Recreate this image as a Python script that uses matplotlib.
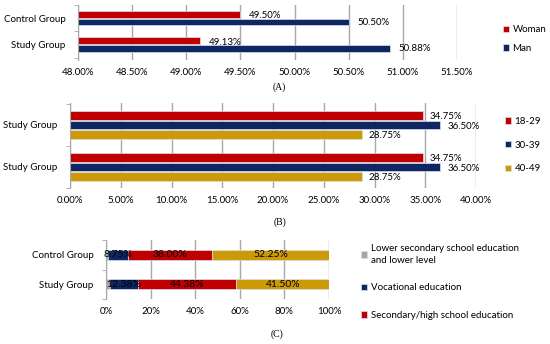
import numpy as np
import matplotlib
matplotlib.use('Agg')
import matplotlib.pyplot as plt

plt.rcParams['font.family'] = ['Lato', 'DejaVu Sans']
plt.rcParams['font.size'] = 7

# panel A - gender
groups_a = ['Control Group', 'Study Group']
woman = [49.50, 49.13]
man = [50.50, 50.88]
ticks_a = [48.0, 48.5, 49.0, 49.5, 50.0, 50.5, 51.0, 51.5]

# panel B - age
groups_b = ['Study Group', 'Study Group']
age_18_29 = [34.75, 34.75]
age_30_39 = [36.50, 36.50]
age_40_49 = [28.75, 28.75]
ticks_b = [0, 5, 10, 15, 20, 25, 30, 35, 40]

# panel C - education
groups_c = ['Control Group', 'Study Group']
edu_lower = [1.00, 1.75]
edu_vocational = [8.75, 12.38]
edu_secondary = [38.00, 44.38]
edu_higher = [52.25, 41.50]
ticks_c = [0, 20, 40, 60, 80, 100]

RED = '#C00000'
NAVY = '#0E2762'
GOLD = '#CC9A06'
GRAY = '#A6A6A6'
GRID = '#A8A8A8'
EDGE = '#DCE0EC'

W, H = 550, 344
fig = plt.figure(figsize=(W / 100, H / 100), dpi=100)


def px_axes(x0, y0, x1, y1):
    return fig.add_axes([x0 / W, 1 - y1 / H, (x1 - x0) / W, (y1 - y0) / H])


def style(ax, labels, ylim):
    ax.set_ylim(*ylim)
    ax.set_yticks(range(len(labels)))
    ax.set_yticklabels(labels)
    ax.set_yticks([-0.5, 0.5, 1.5], minor=True)
    ax.tick_params(axis='y', which='major', length=0, pad=9)
    ax.tick_params(axis='y', which='minor', length=3, color=GRID)
    ax.tick_params(axis='x', length=0, pad=6)
    for s in ['top', 'right', 'bottom']:
        ax.spines[s].set_visible(False)
    ax.spines['left'].set_color(GRID)
    ax.grid(axis='x', color=GRID, lw=1)
    ax.set_axisbelow(True)


def pct(v, dec=2):
    return f'{v:.{dec}f}%'


# ---- A ----
ax = px_axes(78, 5, 457, 60)
y = np.arange(len(groups_a))
ax.barh(y - 0.15, woman, height=0.25, color=RED, edgecolor=EDGE, lw=0.5, label='Woman')
ax.barh(y + 0.15, man, height=0.25, color=NAVY, edgecolor=EDGE, lw=0.5, label='Man')
style(ax, groups_a, (1.58, -0.49))
ax.set_xlim(ticks_a[0], ticks_a[-1])
ax.set_xticks(ticks_a)
ax.set_xticklabels([pct(t) for t in ticks_a])
for i in range(len(groups_a)):
    ax.annotate(pct(woman[i]), (woman[i], y[i] - 0.1), xytext=(6, 0),
                textcoords='offset points', va='center', fontsize=7)
    ax.annotate(pct(man[i]), (man[i], y[i] + 0.15), xytext=(6, 0),
                textcoords='offset points', va='center', fontsize=7)
ax.legend(loc='center left', bbox_to_anchor=(498 / W, 1 - 39 / H), bbox_transform=fig.transFigure,
          frameon=False, handlelength=0.6, handleheight=0.6, handletextpad=0.4,
          labelspacing=1.0, borderpad=0, fontsize=7)
fig.text(279 / W, 1 - 87 / H, '(A)', family='Liberation Serif', fontsize=7, ha='center', va='center')

# ---- B ----
ax = px_axes(70, 103, 476, 188)
y = np.arange(len(groups_b))
for off, vals, col, lab in [(-0.225, age_18_29, RED, '18-29'),
                            (0.0, age_30_39, NAVY, '30-39'),
                            (0.225, age_40_49, GOLD, '40-49')]:
    ax.barh(y + off, vals, height=0.2, color=col, edgecolor=EDGE, lw=0.5, label=lab)
    for i in range(len(groups_b)):
        ax.annotate(pct(vals[i]), (vals[i], y[i] + off + 0.03), xytext=(5, 0),
                    textcoords='offset points', va='center', fontsize=7)
style(ax, groups_b, (1.5, -0.52))
ax.set_xlim(ticks_b[0], ticks_b[-1])
ax.set_xticks(ticks_b)
ax.set_xticklabels([pct(t) for t in ticks_b])
ax.legend(loc='center left', bbox_to_anchor=(500 / W, 1 - 145 / H), bbox_transform=fig.transFigure,
          frameon=False, handlelength=0.6, handleheight=0.6, handletextpad=0.4,
          labelspacing=1.5, borderpad=0, fontsize=7)
fig.text(280 / W, 1 - 222 / H, '(B)', family='Liberation Serif', fontsize=7, ha='center', va='center')

# ---- C ----
ax = px_axes(106, 240, 329, 299)
y = np.arange(len(groups_c))
left = np.zeros(len(groups_c))
segments = [(edu_lower, GRAY, 'Lower secondary school education\nand lower level', False),
            (edu_vocational, NAVY, 'Vocational education', True),
            (edu_secondary, RED, 'Secondary/high school education', True),
            (edu_higher, GOLD, 'Higher education', True)]
for vals, col, lab, show in segments:
    vals = np.array(vals)
    ax.barh(y, vals, left=left, height=0.33, color=col, edgecolor=EDGE, lw=0.5, label=lab)
    if show:
        for i in range(len(groups_c)):
            ax.text(left[i] + vals[i] / 2, y[i], pct(vals[i]), ha='center', va='center', fontsize=7.5)
    left += vals
style(ax, groups_c, (1.47, -0.5))
ax.set_xlim(0, 100)
ax.set_xticks(ticks_c)
ax.set_xticklabels([f'{t}%' for t in ticks_c])
h, l = ax.get_legend_handles_labels()
leg = ax.legend(h[:3], l[:3], loc='upper left', bbox_to_anchor=(356 / W, 1 - 239 / H),
                bbox_transform=fig.transFigure, frameon=False, handlelength=0.6, handleheight=0.6,
                handletextpad=0.4, labelspacing=1.9, borderpad=0, fontsize=7)
leg.get_texts()[0].set_linespacing(1.45)
fig.text(277 / W, 1 - 334 / H, '(C)', family='Liberation Serif', fontsize=7, ha='center', va='center')

fig.savefig('out.png', dpi=100)
